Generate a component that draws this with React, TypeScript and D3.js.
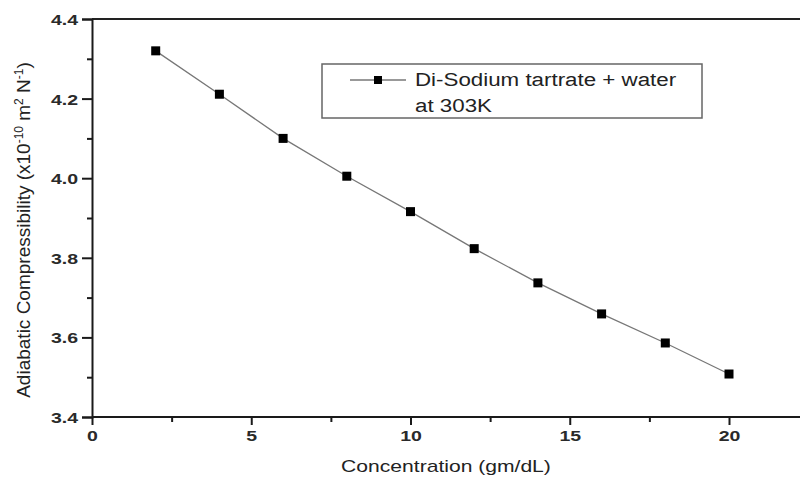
import { useEffect, useRef } from 'react';
import * as d3 from 'd3';

// Concentration (gm/dL) and adiabatic compressibility (x10^-10 m^2 N^-1)
const concentrations = [2, 4, 6, 8, 10, 12, 14, 16, 18, 20];
const compressibility = [4.32, 4.211, 4.1, 4.005, 3.916, 3.823, 3.737, 3.659, 3.586, 3.508];
const xTicks = [0, 5, 10, 15, 20];
const xMinorTicks = [2.5, 7.5, 12.5, 17.5, 22.5];
const yTicks = [3.4, 3.6, 3.8, 4.0, 4.2, 4.4];
const yMinorTicks = [3.5, 3.7, 3.9, 4.1, 4.3];
const seriesLabel = ['Di-Sodium tartrate + water', 'at 303K'];

const WIDTH = 800;
const HEIGHT = 477;
const FONT = '"Liberation Sans", Arial, sans-serif';
const STRETCH = 1.24; // the source picture is a bit wider than tall

// widen text glyphs horizontally, like the source scan
function stretch(sel: d3.Selection<SVGTextElement, any, any, any>, k = STRETCH) {
  sel.each(function () {
    const w = this.getComputedTextLength();
    this.setAttribute('textLength', String(w * k));
    this.setAttribute('lengthAdjust', 'spacingAndGlyphs');
  });
}

export default function App() {
  const svgRef = useRef<SVGSVGElement>(null);

  useEffect(() => {
    if (!svgRef.current) return;
    const svg = d3.select(svgRef.current);
    svg.selectAll('*').remove();

    // Scales (right part of the frame is cut off by the picture edge)
    const x = d3.scaleLinear().domain([0, 20]).range([92, 729]);
    const y = d3.scaleLinear().domain([3.4, 4.4]).range([417, 19]);

    const g = svg.append('g');

    // Frame top line
    g.append('line')
      .attr('x1', x(0))
      .attr('x2', WIDTH + 10)
      .attr('y1', y(4.4))
      .attr('y2', y(4.4))
      .attr('stroke', '#222')
      .attr('stroke-width', 2);

    // X axis
    const xAxis = g
      .append('g')
      .attr('transform', `translate(0,${y(3.4)})`)
      .call(d3.axisBottom(x).tickValues(xTicks).tickSize(8).tickPadding(3).tickFormat(d3.format('d')));
    g.append('g')
      .attr('transform', `translate(0,${y(3.4)})`)
      .call(d3.axisBottom(x).tickValues(xMinorTicks).tickSize(5).tickFormat(() => ''))
      .select('.domain')
      .remove();
    xAxis.select('.domain').attr('d', `M${x(0)},0H${WIDTH + 10}`);

    // Y axis
    const yAxis = g
      .append('g')
      .attr('transform', `translate(${x(0)},0)`)
      .call(d3.axisLeft(y).tickValues(yTicks).tickSize(10).tickPadding(4).tickFormat(d3.format('.1f')));
    g.append('g')
      .attr('transform', `translate(${x(0)},0)`)
      .call(d3.axisLeft(y).tickValues(yMinorTicks).tickSize(5).tickFormat(() => ''))
      .select('.domain')
      .remove();

    g.selectAll('.domain, .tick line').attr('stroke', '#1a1a1a').attr('stroke-width', 2);
    g.selectAll('.tick text')
      .attr('fill', '#2a2a2a')
      .attr('font-family', FONT)
      .attr('font-size', 15)
      .attr('font-weight', 'bold');
    xAxis.selectAll('.tick text').attr('dy', '0.85em');
    yAxis.selectAll('.tick text').attr('dy', '0.36em');

    // Series line
    const pts = concentrations.map((c, i) => [c, compressibility[i]] as [number, number]);
    g.append('path')
      .datum(pts)
      .attr('fill', 'none')
      .attr('stroke', '#777')
      .attr('stroke-width', 1.3)
      .attr(
        'd',
        d3
          .line<[number, number]>()
          .x((d) => x(d[0]))
          .y((d) => y(d[1]))
      );

    // Markers
    const ms = 9;
    g.selectAll('rect.pt')
      .data(pts)
      .join('rect')
      .attr('class', 'pt')
      .attr('x', (d) => x(d[0]) - ms / 2)
      .attr('y', (d) => y(d[1]) - ms / 2)
      .attr('width', ms)
      .attr('height', ms)
      .attr('fill', '#000');

    // Legend
    const legend = g.append('g').attr('transform', 'translate(322,64)');
    legend
      .append('rect')
      .attr('width', 380)
      .attr('height', 54)
      .attr('fill', '#fff')
      .attr('stroke', '#666')
      .attr('stroke-width', 1.5);
    legend
      .append('line')
      .attr('x1', 28)
      .attr('x2', 84)
      .attr('y1', 16)
      .attr('y2', 16)
      .attr('stroke', '#777')
      .attr('stroke-width', 1.3);
    legend
      .append('rect')
      .attr('x', 52)
      .attr('y', 12)
      .attr('width', 8)
      .attr('height', 8)
      .attr('fill', '#000');
    const legendText = legend
      .selectAll('text')
      .data(seriesLabel)
      .join('text')
      .attr('x', 93)
      .attr('y', (_, i) => 22 + i * 26)
      .attr('font-family', FONT)
      .attr('font-size', 18)
      .attr('fill', '#222')
      .text((d) => d);

    // Axis titles
    const xt = g
      .append('text')
      .attr('x', 446)
      .attr('y', 472)
      .attr('text-anchor', 'middle')
      .attr('font-family', FONT)
      .attr('font-size', 17)
      .attr('fill', '#222')
      .text('Concentration (gm/dL)');

    const yt = g
      .append('text')
      .attr('transform', `translate(30,${(y(3.4) + y(4.4)) / 2 + 12}) rotate(-90)`)
      .attr('text-anchor', 'middle')
      .attr('font-family', FONT)
      .attr('font-size', 19)
      .attr('fill', '#222');
    yt.append('tspan').text('Adiabatic Compressibility (x10');
    yt.append('tspan').attr('dy', -7).attr('font-size', 12).text('-10');
    yt.append('tspan').attr('dy', 7).text(' m');
    yt.append('tspan').attr('dy', -7).attr('font-size', 12).text('2');
    yt.append('tspan').attr('dy', 7).text(' N');
    yt.append('tspan').attr('dy', -7).attr('font-size', 12).text('-1');
    yt.append('tspan').attr('dy', 7).text(')');

    stretch(g.selectAll<SVGTextElement, unknown>('.tick text'), 1.3);
    stretch(legendText as any);
    stretch(xt as any);
  }, []);

  return (
    <svg
      ref={svgRef}
      width={WIDTH}
      height={HEIGHT}
      style={{ position: 'absolute', left: 0, top: 0, background: '#fff', overflow: 'hidden' }}
    />
  );
}
